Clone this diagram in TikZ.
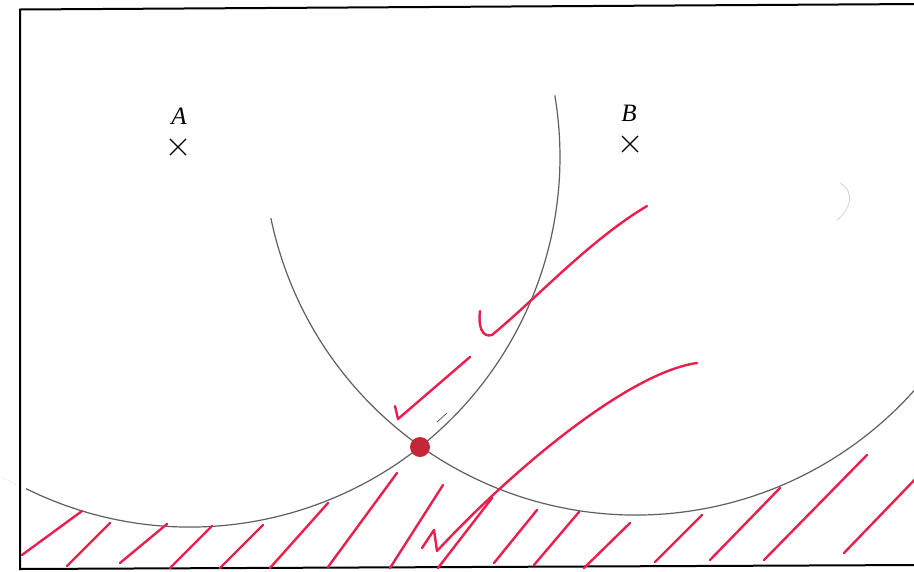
\documentclass[tikz,border=0pt]{standalone}
\usepackage{fontspec}
\setmainfont{Liberation Serif}
\usetikzlibrary{shapes.misc}
\definecolor{pen}{RGB}{232,32,78}
\definecolor{dotred}{RGB}{196,40,56}
\definecolor{pencil}{RGB}{95,95,95}
\tikzset{
  frame/.style={line width=2pt, black},
  arcline/.style={line width=1.2pt, pencil},
  redpen/.style={line width=2.4pt, pen, line cap=round, line join=round},
  crossmark/.style={cross out, draw=black, line width=1.1pt, minimum size=15pt, inner sep=0pt},
  lbl/.style={font=\fontsize{25}{25}\selectfont\itshape, inner sep=0pt},
  faint/.style={line width=0.7pt, black!18}
}
\begin{document}
\begin{tikzpicture}[x=1pt,y=-1pt]
\useasboundingbox (0,0) rectangle (914,571);
\fill[white] (0,0) rectangle (914,571);
% frame
\coordinate (tl) at (20,9.5);
\coordinate (tr) at (920,4);
\coordinate (bl) at (20,569);
\coordinate (br) at (920,565);
\draw[frame] (tr) -- (tl) -- (bl) -- (br);
% centres and labels
\node[crossmark] (xA) at (178,147) {};
\node[crossmark] (xB) at (630,144) {};
\node[lbl] (labA) at (179,116) {A};
\node[lbl] (labB) at (629,113) {B};
% compass arcs
\coordinate (cA) at (190,157);
\coordinate (cB) at (636,142);
\draw[arcline] (cA) ++(116.3:370) arc[start angle=116.3, end angle=-9.6, radius=370];
\draw[arcline] (cB) ++(168.2:373) arc[start angle=168.2, end angle=40.5, radius=373];
% faint pencil marks
\draw[faint] (840,183) .. controls (856,192) and (850,210) .. (837,220);
\draw[faint, dotted] (3,478) -- (17,485);
\draw[line width=0.8pt, pencil] (437,422) -- (447,413);
% red check marks
\draw[redpen] (480,311) .. controls (478,326) and (482,338) .. (492,335)
  .. controls (540,295) and (590,240) .. (647,206);
\draw[redpen] (395,406) -- (398,419) -- (470,357);
\draw[redpen] (422,548) -- (434,530) -- (437,551)
  .. controls (520,462) and (632,372) .. (697,363);
% red hatching
\foreach \a/\b/\c/\d in {
  22/555/82/511, 67/566/110/523, 120/563/167/524, 170/568/212/526,
  220/568/263/525, 270/568/328/503, 328/567/397/473, 390/568/443/485,
  438/568/492/498, 494/563/537/510, 534/565/579/512, 584/568/630/523,
  655/562/702/515, 710/560/780/488, 764/560/867/455, 844/553/925/469}
  {\draw[redpen] (\a,\b) -- (\c,\d);}
% intersection point
\node[circle, fill=dotred, minimum size=20pt, inner sep=0pt] (P) at (420,447) {};
\end{tikzpicture}
\end{document}
